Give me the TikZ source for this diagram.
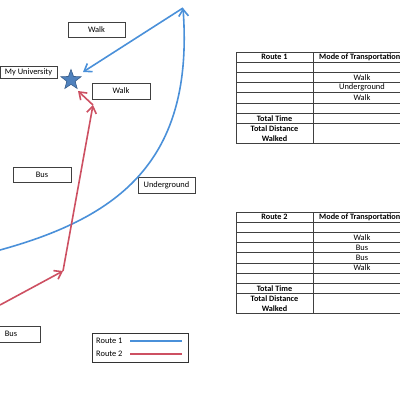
\documentclass[tikz,border=0pt]{standalone}
\usepackage{fontspec}
\setmainfont{Carlito}
\usetikzlibrary{positioning,arrows.meta,shapes.geometric}
\definecolor{routeblue}{RGB}{74,144,217}
\definecolor{routered}{RGB}{205,80,98}
\definecolor{starfill}{RGB}{79,129,189}
\definecolor{stardraw}{RGB}{56,93,138}

\begin{document}
\begin{tikzpicture}[x=1pt, y=-1pt,
    tagbox/.style={draw=black!75, line width=0.6pt, fill=white, minimum width=57pt, minimum height=15pt, inner sep=1pt, font=\fontsize{8.4}{9}\selectfont},
    blueline/.style={routeblue, line width=1.6pt},
    redline/.style={routered, line width=1.6pt},
    barb/.style={-{Straight Barb[length=2.4mm, width=3.4mm]}},
    tabline/.style={draw=black!75, line width=0.7pt},
    cell/.style={inner sep=0pt, font=\fontsize{8.4}{9}\selectfont},
    headcell/.style={inner sep=0pt, align=center, font=\fontsize{8.2}{10}\selectfont\bfseries}
]
\useasboundingbox (0,0) rectangle (400,400);
\clip (0,0) rectangle (400,400);

% Map labels
\node[tagbox] (walkTop) at (96.5,29.5) {Walk};
\node[tagbox, minimum height=12pt] (uni) at (28.5,72) {My University};
\node[tagbox, minimum width=58pt, minimum height=16pt] (walkUni) at (121,91) {Walk};
\node[tagbox, minimum width=58pt] (busMid) at (42,174.5) {Bus};
\node[tagbox, minimum height=16pt] (under) at (166.5,185) {Underground};
\node[tagbox, minimum width=58pt, minimum height=16pt] (busLow) at (11,334) {Bus};

% Destination
\node[star, star points=5, star point ratio=2.4, minimum size=21pt, inner sep=0pt, fill=starfill, draw=stardraw, line width=0.6pt] (star) at (71,80) {};

% Route 1
\coordinate (peak) at (183,8);
\coordinate (uniBlue) at (83,72);
\coordinate (startBlue) at (0,250);
\draw[blueline, barb] (startBlue) .. controls (120,217) and (194,160) .. (peak);
\draw[blueline, barb] (peak) -- (uniBlue);

% Route 2
\coordinate (startRed) at (0,305);
\coordinate (stop) at (63,271);
\coordinate (drop) at (93,105);
\coordinate (uniRed) at (78,91);
\draw[redline, barb] (startRed) -- (stop);
\draw[redline, barb] (stop) -- (drop);
\draw[redline, barb] (drop) -- (uniRed);

% Legend
\node[draw=black!80, line width=0.7pt, minimum width=96pt, minimum height=29pt] (legend) at (140,347.5) {};
\node[cell, anchor=west] (leg1) at (96,341) {Route 1};
\node[cell, anchor=west] (leg2) at (96,353.5) {Route 2};
\coordinate (l1a) at (130,341); \coordinate (l1b) at (182,341);
\coordinate (l2a) at (130,354); \coordinate (l2b) at (182,354);
\draw[blueline, line width=1.8pt] (l1a) -- (l1b);
\draw[redline, line width=1.8pt] (l2a) -- (l2b);

% Table 1
\foreach \y in {52,62.2,72.4,82.6,92.8,103,113.2,123.4,143.6}
    \draw[tabline] (236,\y) -- (420,\y);
\draw[tabline] (236,52) -- (236,143.6);
\draw[tabline] (313,52) -- (313,143.6);
\node[headcell] (r1head) at (274.5,57.1) {Route 1};
\node[headcell, anchor=west] (r1mode) at (319,57.1) {Mode of Transportation};
\node[cell] (r1a) at (362,77.5) {Walk};
\node[cell] (r1b) at (362,87.7) {Underground};
\node[cell] (r1c) at (362,97.9) {Walk};
\node[headcell] (r1time) at (274.5,118.3) {Total Time};
\node[headcell] (r1dist) at (274.5,133.5) {Total Distance\\Walked};

% Table 2
\foreach \y in {212,222.2,232.4,242.6,252.8,263,273.2,283.4,293.6,313.8}
    \draw[tabline] (236,\y) -- (420,\y);
\draw[tabline] (236,212) -- (236,313.8);
\draw[tabline] (313,212) -- (313,313.8);
\node[headcell] (r2head) at (274.5,217.1) {Route 2};
\node[headcell, anchor=west] (r2mode) at (319,217.1) {Mode of Transportation};
\node[cell] (r2a) at (362,237.5) {Walk};
\node[cell] (r2b) at (362,247.7) {Bus};
\node[cell] (r2c) at (362,257.9) {Bus};
\node[cell] (r2d) at (362,268.1) {Walk};
\node[headcell] (r2time) at (274.5,288.5) {Total Time};
\node[headcell] (r2dist) at (274.5,303.7) {Total Distance\\Walked};

\end{tikzpicture}
\end{document}
